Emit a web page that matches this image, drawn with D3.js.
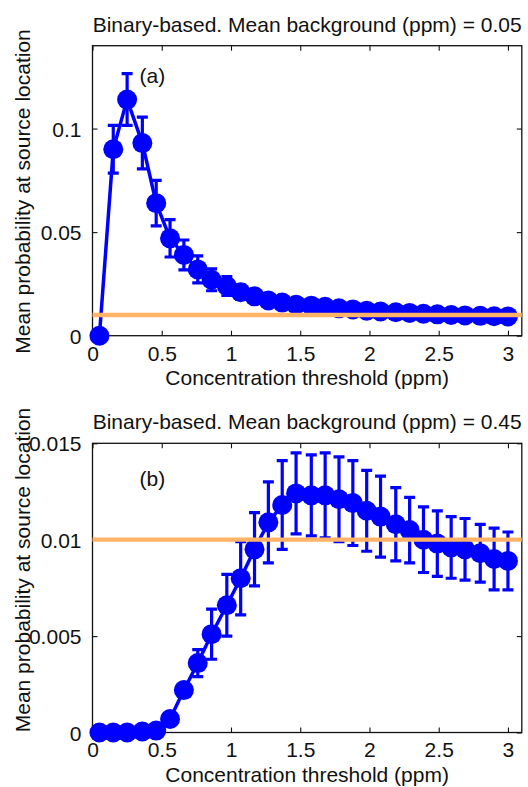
<!DOCTYPE html>
<html>
<head>
<meta charset="utf-8">
<script src="https://cdn.jsdelivr.net/npm/d3@7"></script>
<style>
  body { margin: 0; background: #fff; }
  svg text { font-family: "Liberation Sans", Arial, sans-serif; fill: #111; }
</style>
</head>
<body>
<div id="wrapper"></div>
<script>
// thresholds (ppm), same for both panels
const thresholds = [0.05, 0.15, 0.25, 0.36, 0.46, 0.56, 0.66, 0.76, 0.86, 0.97,
  1.07, 1.17, 1.27, 1.37, 1.47, 1.58, 1.68, 1.78, 1.88, 1.98,
  2.08, 2.19, 2.29, 2.39, 2.49, 2.59, 2.69, 2.80, 2.90, 3.00]

// panel (a) background 0.05 ppm
const meanA = [0, 0.090, 0.114, 0.093, 0.064, 0.047, 0.039, 0.032, 0.027, 0.024,
  0.021, 0.019, 0.017, 0.016, 0.015, 0.0145, 0.014, 0.0132, 0.0127, 0.0121,
  0.0117, 0.0113, 0.0110, 0.0106, 0.0103, 0.0100, 0.0098, 0.0096, 0.0094, 0.0093]
const errA = [0, 0.0115, 0.0125, 0.0125, 0.011, 0.009, 0.0072, 0.0065, 0.0053, 0.0045,
  0.0035, 0.003, 0.0025, 0.002, 0.0018, 0.0016, 0.0015, 0.0014, 0.0013, 0.0012,
  0.0011, 0.001, 0.001, 0.0009, 0.0009, 0.0008, 0.0008, 0.0008, 0.0007, 0.0007]

// panel (b) background 0.45 ppm
const meanB = [0, 0, 0, 0.00005, 0.0001, 0.0007, 0.0022, 0.0036, 0.0051, 0.0066,
  0.0080, 0.0095, 0.0109, 0.0118, 0.0124, 0.0123, 0.0123, 0.0121, 0.0119, 0.0115,
  0.0112, 0.0108, 0.0105, 0.0100, 0.0098, 0.0096, 0.0095, 0.0093, 0.0090, 0.0089]
const errB = [0, 0, 0, 0, 0, 0.0001, 0.0002, 0.0007, 0.0013, 0.0016,
  0.0019, 0.0019, 0.0021, 0.0023, 0.0021, 0.0021, 0.0022, 0.0022, 0.0022, 0.0021,
  0.0021, 0.0019, 0.0017, 0.0017, 0.0017, 0.0016, 0.0016, 0.0015, 0.0016, 0.0015]

const uniformLevel = 0.01

const xTicks = [0, 0.5, 1, 1.5, 2, 2.5, 3]
const xTickLabels = ["0", "0.5", "1", "1.5", "2", "2.5", "3"]
const yTicksA = [0, 0.05, 0.1]
const yTickLabelsA = ["0", "0.05", "0.1"]
const yTicksB = [0, 0.005, 0.01, 0.015]
const yTickLabelsB = ["0", "0.005", "0.01", "0.015"]

const titles = ["Binary-based. Mean background (ppm) = 0.05",
  "Binary-based. Mean background (ppm) = 0.45"]
const panelTags = ["(a)", "(b)"]
const xLabel = "Concentration threshold (ppm)"
const yLabel = "Mean probability at source location"

const width = 528
const height = 787

const svg = d3.select("#wrapper")
  .append("svg")
  .attr("width", width)
  .attr("height", height)

const blue = "#0000ff"
const orange = "#ffb366"

function drawPanel(opts) {
  const { top, bottom, yMax, yTicks, yTickLabels, mean, err, title, tag, tagPos, yLabelY } = opts
  const left = 92.5
  const right = 521.8

  const xScale = d3.scaleLinear().domain([0, 3.1]).range([left, right])
  const yScale = d3.scaleLinear().domain([0, yMax]).range([bottom, top])

  const g = svg.append("g")

  // box
  g.append("rect")
    .attr("x", left).attr("y", top)
    .attr("width", right - left).attr("height", bottom - top)
    .attr("fill", "none").attr("stroke", "#111").attr("stroke-width", 1.3)

  // axes, ticks inside
  const xAxisB = g.append("g")
    .attr("transform", `translate(0,${bottom})`)
    .call(d3.axisBottom(xScale).tickValues(xTicks).tickSize(-5).tickPadding(10)
      .tickFormat((d, i) => xTickLabels[i]))
  const xAxisT = g.append("g")
    .attr("transform", `translate(0,${top})`)
    .call(d3.axisTop(xScale).tickValues(xTicks).tickSize(-5).tickFormat(""))
  const yAxisL = g.append("g")
    .attr("transform", `translate(${left},0)`)
    .call(d3.axisLeft(yScale).tickValues(yTicks).tickSize(-5).tickPadding(11)
      .tickFormat((d, i) => yTickLabels[i]))
  const yAxisR = g.append("g")
    .attr("transform", `translate(${right},0)`)
    .call(d3.axisRight(yScale).tickValues(yTicks).tickSize(-5).tickFormat(""))

  for (const ax of [xAxisB, xAxisT, yAxisL, yAxisR]) {
    ax.select(".domain").remove()
    ax.selectAll(".tick line").attr("stroke", "#111").attr("stroke-width", 1.1)
    ax.selectAll(".tick text").style("font-size", "21px").attr("fill", "#111")
      .style("font-family", "'Liberation Sans', Arial, sans-serif")
  }
  yAxisL.selectAll(".tick text").attr("dy", "0.36em")

  // title + labels
  g.append("text")
    .attr("x", (left + right) / 2)
    .attr("y", top - 14)
    .attr("text-anchor", "middle")
    .style("font-size", "21px")
    .text(title)

  g.append("text")
    .attr("x", (left + right) / 2)
    .attr("y", bottom + 49)
    .attr("text-anchor", "middle")
    .style("font-size", "21px")
    .text(xLabel)

  g.append("text")
    .attr("transform", `translate(30,${yLabelY}) rotate(-90)`)
    .attr("text-anchor", "middle")
    .style("font-size", "21px")
    .text(yLabel)

  g.append("text")
    .attr("x", xScale(tagPos[0]))
    .attr("y", yScale(tagPos[1]))
    .style("font-size", "21px")
    .text(tag)

  const data = thresholds.map((t, i) => ({ x: t, y: mean[i], e: err[i] }))

  // error bars
  const bars = g.append("g")
    .attr("stroke", blue)
    .attr("stroke-width", 3.2)
  bars.selectAll(".eb")
    .data(data.filter(d => d.e > 0))
    .join("path")
    .attr("class", "eb")
    .attr("fill", "none")
    .attr("d", d => {
      const x = xScale(d.x)
      const y0 = yScale(d.y - d.e)
      const y1 = yScale(d.y + d.e)
      const c = 5.5
      return `M${x},${y0}V${y1}M${x - c},${y0}H${x + c}M${x - c},${y1}H${x + c}`
    })

  // line
  const line = d3.line().x(d => xScale(d.x)).y(d => yScale(d.y))
  g.append("path")
    .datum(data)
    .attr("d", line)
    .attr("fill", "none")
    .attr("stroke", blue)
    .attr("stroke-width", 3.5)

  // markers
  g.append("g").selectAll("circle")
    .data(data)
    .join("circle")
    .attr("cx", d => xScale(d.x))
    .attr("cy", d => yScale(d.y))
    .attr("r", 10)
    .attr("fill", blue)

  // uniform reference level
  g.append("line")
    .attr("x1", xScale(0)).attr("x2", xScale(3.1))
    .attr("y1", yScale(uniformLevel)).attr("y2", yScale(uniformLevel))
    .attr("stroke", orange)
    .attr("stroke-width", 4.3)
}

drawPanel({
  top: 45.7, bottom: 335.7, yMax: 0.14,
  yTicks: yTicksA, yTickLabels: yTickLabelsA,
  mean: meanA, err: errA,
  title: titles[0], tag: panelTags[0], tagPos: [0.34, 0.122],
  yLabelY: 191.5
})

drawPanel({
  top: 443.3, bottom: 732.5, yMax: 0.015,
  yTicks: yTicksB, yTickLabels: yTickLabelsB,
  mean: meanB, err: errB,
  title: titles[1], tag: panelTags[1], tagPos: [0.34, 0.0128],
  yLabelY: 570
})
</script>
</body>
</html>
